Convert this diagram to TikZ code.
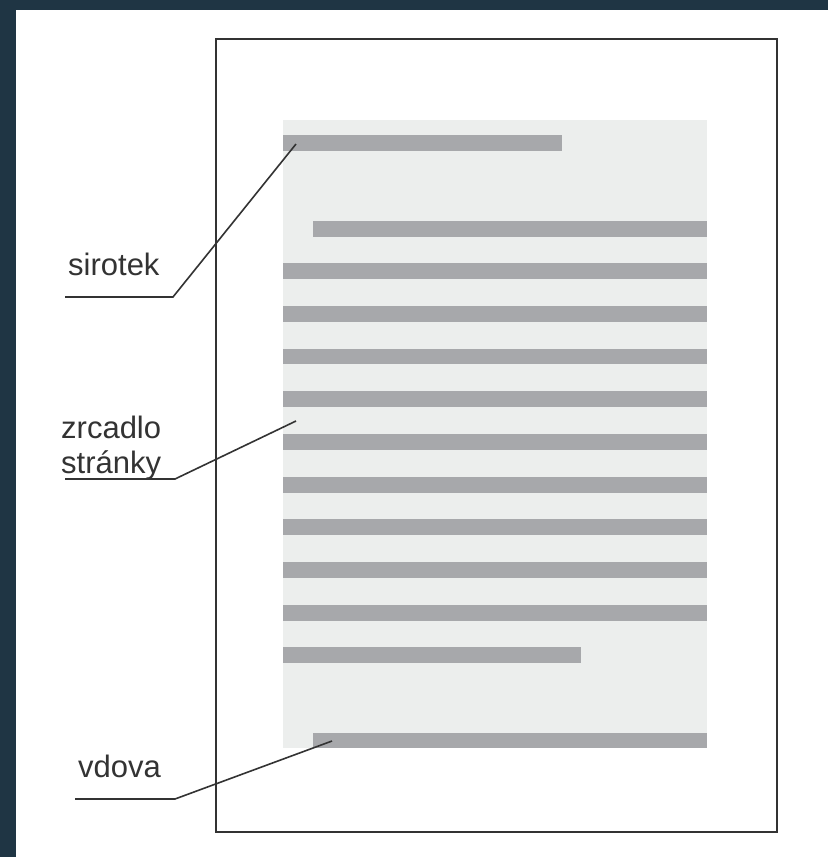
\documentclass[tikz,border=0pt]{standalone}
\usepackage{tikz}
\usepackage{xcolor}
\usepackage{fontspec}
\setmainfont{Liberation Sans}
\definecolor{framecolor}{HTML}{1F3544}
\definecolor{areacolor}{HTML}{ECEEED}
\definecolor{barcolor}{HTML}{A7A8AB}
\definecolor{inkcolor}{HTML}{333333}

\begin{document}
\begin{tikzpicture}[x = 1pt, y = -1pt,
        bar/.style = {fill = barcolor, rectangle, inner sep = 0pt, minimum height = 15.5pt, anchor = north west},
        label/.style = {text = inkcolor, font = \fontsize{31}{35}\selectfont, inner sep = 0pt, anchor = base west},
        leader/.style = {draw = inkcolor, line width = 1.6pt}]
        % Background
        \useasboundingbox (0, 0) rectangle (828, 857);
        \fill [white] (0, 0) rectangle (828, 857);
        \fill [framecolor] (0, 0) rectangle (828, 10);
        \fill [framecolor] (0, 0) rectangle (16, 857);

        % Page and type area
        \node [draw = inkcolor, line width = 2pt, rectangle, inner sep = 0pt, minimum width = 561pt, minimum height = 793pt, anchor = north west] (page) at (215, 38) {};
        \node [fill = areacolor, rectangle, inner sep = 0pt, minimum width = 424pt, minimum height = 628pt, anchor = north west] (area) at (283, 120) {};

        % Lines of text
        \node [bar, minimum width = 279pt] (b1) at (283, 135) {};
        \node [bar, minimum width = 394pt] (b2) at (313, 221) {};
        \node [bar, minimum width = 424pt] (b3) at (283, 263) {};
        \node [bar, minimum width = 424pt] (b4) at (283, 306) {};
        \node [bar, minimum width = 424pt] (b5) at (283, 348.5) {};
        \node [bar, minimum width = 424pt] (b6) at (283, 391) {};
        \node [bar, minimum width = 424pt] (b7) at (283, 434) {};
        \node [bar, minimum width = 424pt] (b8) at (283, 477) {};
        \node [bar, minimum width = 424pt] (b9) at (283, 519) {};
        \node [bar, minimum width = 424pt] (b10) at (283, 562) {};
        \node [bar, minimum width = 424pt] (b11) at (283, 605) {};
        \node [bar, minimum width = 298pt] (b12) at (283, 647) {};
        \node [bar, minimum width = 394pt, minimum height = 15pt] (b13) at (313, 733) {};

        % Labels
        \node [label] (sirotek) at (68, 275) {sirotek};
        \node [label] (zrcadlo) at (61, 438) {zrcadlo};
        \node [label] (stranky) at (61, 473) {stránky};
        \node [label] (vdova) at (78, 777) {vdova};

        % Leader points
        \coordinate (s1) at (65, 297);
        \coordinate (s2) at (173, 297);
        \coordinate (s3) at (296, 144);
        \coordinate (z1) at (65, 479);
        \coordinate (z2) at (175, 479);
        \coordinate (z3) at (296, 421);
        \coordinate (v1) at (75, 799);
        \coordinate (v2) at (175, 799);
        \coordinate (v3) at (332, 741);

        % Leaders
        \draw [leader] (s1) -- (s2) -- (s3);
        \draw [leader] (z1) -- (z2) -- (z3);
        \draw [leader] (v1) -- (v2) -- (v3);

    \end{tikzpicture}
\end{document}
